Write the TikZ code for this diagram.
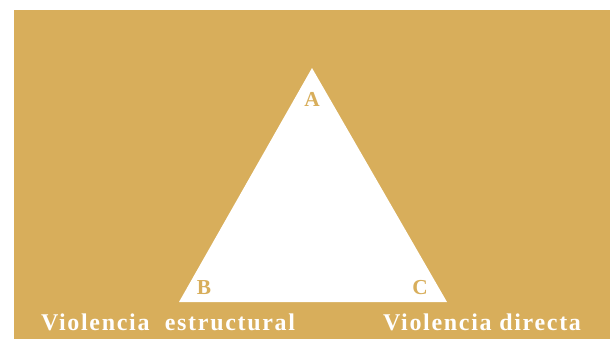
\documentclass[tikz,border=0pt]{standalone}
\usepackage{fontspec}
\setmainfont{Liberation Serif}
\newfontfamily\capfont[LetterSpace=7]{Liberation Serif}
\usepackage{xcolor}
\usetikzlibrary{positioning}

\definecolor{gold}{RGB}{216,174,91}

\begin{document}
\begin{tikzpicture}[
    x=0.75pt, y=-0.75pt,
    vertexlabel/.style={font=\bfseries\fontsize{16}{16}\selectfont, text=gold, inner sep=0pt},
    caption/.style={font=\capfont\bfseries\fontsize{18}{18}\selectfont, text=white, inner sep=0pt, anchor=base},
]

% ---- Frame ----
\useasboundingbox (0,0) rectangle (610,339);
\fill[gold] (14,10) rectangle (610,339);

% ---- Triangle ----
\coordinate (a) at (312,68);
\coordinate (b) at (179,302);
\coordinate (c) at (447,302);
\fill[white] (a) -- (b) -- (c) -- cycle;

\node[vertexlabel] (la) at (312,99) {A};
\node[vertexlabel] (lb) at (204,288) {B};
\node[vertexlabel] (lc) at (420,288) {C};

% ---- Captions ----
\node[caption] (est) at (168,330) {Violencia\ \ estructural};
\node[caption] (dir) at (482,330) {Violencia directa};

\end{tikzpicture}
\end{document}
